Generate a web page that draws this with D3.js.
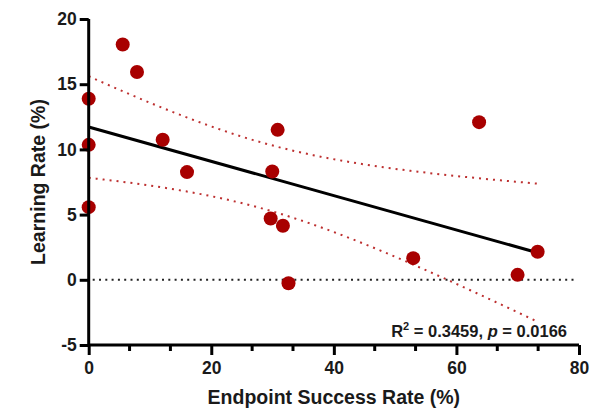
<!DOCTYPE html>
<html>
<head>
<meta charset="utf-8">
<script src="https://cdn.jsdelivr.net/npm/d3@7"></script>
<style>
  body { margin: 0; background: #fff; }
  svg text { font-family: "Liberation Sans", Arial, sans-serif; font-weight: bold; fill: #1a1a1a; }
</style>
</head>
<body>
<svg id="chart" width="593" height="409"></svg>
<script>
// Endpoint success rate (%) and learning rate (%) per subject
const successRate = [0, 0, 0, 5.55, 7.88, 12.07, 16.04, 30.83, 29.95, 29.69, 31.69, 32.6, 63.7, 52.95, 69.98, 73.25];
const learningRate = [13.88, 10.35, 5.57, 18.05, 15.93, 10.74, 8.26, 11.5, 8.31, 4.70, 4.14, -0.26, 12.09, 1.66, 0.38, 2.15];
const xTicks = [0, 20, 40, 60, 80];
const yTicks = [-5, 0, 5, 10, 15, 20];
const rSquaredText = "0.3459";
const pValueText = "0.0166";

const svg = d3.select("#chart");

const x = d3.scaleLinear().domain([0, 80]).range([88.7, 579]);
const y = d3.scaleLinear().domain([-5, 20]).range([345, 19]);

// Least-squares fit with 95% confidence band
const n = successRate.length;
const mx = d3.mean(successRate), my = d3.mean(learningRate);
let sxx = 0, sxy = 0;
successRate.forEach((xi, i) => { sxx += (xi - mx) ** 2; sxy += (xi - mx) * (learningRate[i] - my); });
const slope = sxy / sxx, intercept = my - slope * mx;
let sse = 0;
successRate.forEach((xi, i) => { sse += (learningRate[i] - (intercept + slope * xi)) ** 2; });
const s = Math.sqrt(sse / (n - 2));
const tCrit = 2.1448; // t(0.975, df = 14)
const xMin = d3.min(successRate), xMax = d3.max(successRate);
const grid = d3.range(0, 61).map(k => xMin + (xMax - xMin) * k / 60);
const half = xv => tCrit * s * Math.sqrt(1 / n + (xv - mx) ** 2 / sxx);

const line = d3.line().x(d => x(d[0])).y(d => y(d[1]));

// zero reference line
svg.append("line")
  .attr("x1", x(0) + 4).attr("x2", x(80) - 2)
  .attr("y1", y(0)).attr("y2", y(0))
  .attr("stroke", "#222").attr("stroke-width", 2)
  .attr("stroke-dasharray", "2,4.3");

// confidence bands
[1, -1].forEach(sign => {
  svg.append("path")
    .datum(grid.map(xv => [xv, intercept + slope * xv + sign * half(xv)]))
    .attr("d", line)
    .attr("fill", "none")
    .attr("stroke", "#bd3030")
    .attr("stroke-width", 2)
    .attr("stroke-dasharray", "2,5");
});

// regression line
svg.append("path")
  .datum([[xMin, intercept + slope * xMin], [xMax, intercept + slope * xMax]])
  .attr("d", line)
  .attr("fill", "none")
  .attr("stroke", "#000")
  .attr("stroke-width", 3);

// points
svg.append("g").selectAll("circle")
  .data(successRate.map((xi, i) => [xi, learningRate[i]]))
  .join("circle")
  .attr("cx", d => x(d[0])).attr("cy", d => y(d[1]))
  .attr("r", 7)
  .attr("fill", "#a80000");

// axes (plain hyphen for negatives)
const plain = d => String(d);
const xAxis = d3.axisBottom(x).tickValues(xTicks).tickFormat(plain).tickSize(10).tickPadding(7);
const gx = svg.append("g").attr("transform", `translate(0,${y(-5)})`).call(xAxis);
const yAxis = d3.axisLeft(y).tickValues(yTicks).tickFormat(plain).tickSize(9).tickPadding(3);
const gy = svg.append("g").attr("transform", `translate(${x(0)},0)`).call(yAxis);

[gx, gy].forEach(g => {
  g.select(".domain").attr("stroke", "#000").attr("stroke-width", 3);
  g.selectAll(".tick line").attr("stroke", "#000").attr("stroke-width", 3);
  g.selectAll(".tick text").attr("fill", "#1a1a1a")
    .style("font-family", "'Liberation Sans', Arial, sans-serif")
    .style("font-weight", "bold").style("font-size", "17.5px");
});
gx.select(".domain").attr("d", `M${x(0)},0H${x(80)}`);
gy.select(".domain").attr("d", `M0,${y(-5)}V${y(20)}`);

// minor x ticks
const minor = d3.range(0, 80, 20 / 3).filter((v, i) => i % 3 !== 0);
gx.selectAll(".minor").data(minor).join("line")
  .attr("class", "minor")
  .attr("x1", d => x(d)).attr("x2", d => x(d))
  .attr("y1", 0).attr("y2", 6)
  .attr("stroke", "#000").attr("stroke-width", 3);

// axis titles
svg.append("text")
  .attr("x", (x(0) + x(80)) / 2).attr("y", 404)
  .attr("text-anchor", "middle")
  .style("font-size", "19.5px")
  .text("Endpoint Success Rate (%)");

svg.append("text")
  .attr("transform", `translate(45,${(y(-5) + y(20)) / 2}) rotate(-90)`)
  .attr("text-anchor", "middle")
  .style("font-size", "19.5px")
  .text("Learning Rate (%)");

// fit statistics
const stat = svg.append("text")
  .attr("x", 567).attr("y", 337)
  .attr("text-anchor", "end")
  .style("font-size", "16.5px");
stat.append("tspan").text("R");
stat.append("tspan").attr("dy", -7).style("font-size", "11px").text("2");
stat.append("tspan").attr("dy", 7).text(" = " + rSquaredText + ", ");
stat.append("tspan").style("font-style", "italic").text("p");
stat.append("tspan").text(" = " + pValueText);
</script>
</body>
</html>
